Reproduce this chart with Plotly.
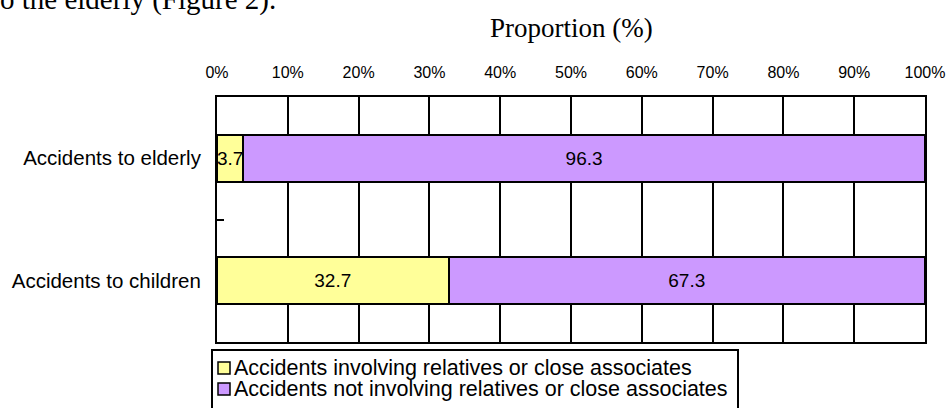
import plotly.graph_objects as go

categories = ["Accidents to children", "Accidents to elderly"]
involving = [32.7, 3.7]
not_involving = [67.3, 96.3]
tick_vals = [0, 10, 20, 30, 40, 50, 60, 70, 80, 90, 100]
tick_text = ["0%", "10%", "20%", "30%", "40%", "50%", "60%", "70%", "80%", "90%", "100%"]
series_names = ["Accidents involving relatives or close associates",
                "Accidents not involving relatives or close associates"]
series_colors = ["#FFFF99", "#CC99FF"]

SANS = "Liberation Sans, Arial, sans-serif"
SERIF = "Liberation Serif, Times New Roman, serif"

W, H = 949, 408
ML, MR, MT, MB = 217, 24, 97, 66
PW, PH = W - ML - MR, H - MT - MB


def px_x(x):
    return (x - ML) / PW


def px_y(y):
    return (H - MB - y) / PH


fig = go.Figure()
for vals, name, color in [(involving, series_names[0], series_colors[0]),
                          (not_involving, series_names[1], series_colors[1])]:
    fig.add_trace(go.Bar(
        y=categories, x=vals, orientation="h", name=name,
        marker=dict(color=color, line=dict(color="black", width=2)),
        text=[f"{v:.1f}" for v in vals], textposition="inside",
        insidetextanchor="middle", textangle=0,
        textfont=dict(family=SANS, size=19, color="black"), width=0.385,
        showlegend=False,
    ))

# legend drawn as a boxed key (tight line spacing as in the reference)
shapes = [dict(type="rect", xref="paper", yref="paper",
               x0=px_x(212), x1=px_x(738), y0=px_y(350), y1=px_y(412),
               line=dict(color="black", width=2), fillcolor="white", layer="above")]
annotations = []
for i, (name, color) in enumerate(zip(series_names, series_colors)):
    cy = 368 + 21 * i
    shapes.append(dict(type="rect", xref="paper", yref="paper",
                       x0=px_x(218), x1=px_x(230), y0=px_y(cy - 6), y1=px_y(cy + 6),
                       line=dict(color="black", width=1.5), fillcolor=color, layer="above"))
    annotations.append(dict(text=name, xref="paper", yref="paper",
                            x=px_x(232), y=px_y(cy), xanchor="left", yanchor="middle",
                            showarrow=False, font=dict(family=SANS, size=21.5, color="black")))

annotations += [
    dict(text="o the elderly (Figure 2).", xref="paper", yref="paper",
         x=px_x(-2), y=px_y(0), xanchor="left", yanchor="middle",
         showarrow=False, font=dict(family=SERIF, size=29, color="black")),
    dict(text="Proportion (%)", xref="paper", yref="paper",
         x=0.5, y=px_y(28), xanchor="center", yanchor="middle",
         showarrow=False, font=dict(family=SERIF, size=27, color="black")),
]

fig.update_layout(
    width=W, height=H,
    margin=dict(l=ML, r=MR, t=MT, b=MB, autoexpand=False),
    barmode="stack",
    paper_bgcolor="white", plot_bgcolor="white",
    uniformtext=dict(minsize=19, mode="show"),
    font=dict(family=SANS, color="black"),
    showlegend=False,
    shapes=shapes,
    annotations=annotations,
)
fig.update_xaxes(
    range=[0, 100], side="top", tickvals=tick_vals, ticktext=tick_text,
    tickfont=dict(family=SANS, size=16, color="black"),
    showgrid=True, gridcolor="black", gridwidth=2,
    showline=True, linecolor="black", linewidth=2, mirror=True,
    ticks="", ticklabelstandoff=11, zeroline=False,
)
fig.update_yaxes(
    type="category", range=[-0.5, 1.5],
    tickfont=dict(family=SANS, size=20.5, color="black"),
    showgrid=False, showline=True, linecolor="black", linewidth=2, mirror=True,
    ticks="inside", tickson="boundaries", ticklen=7, tickwidth=2, tickcolor="black",
    ticklabelstandoff=10,
)

fig.write_html("out.html", config={"displayModeBar": False},
               post_script="document.body.style.margin='0';")
